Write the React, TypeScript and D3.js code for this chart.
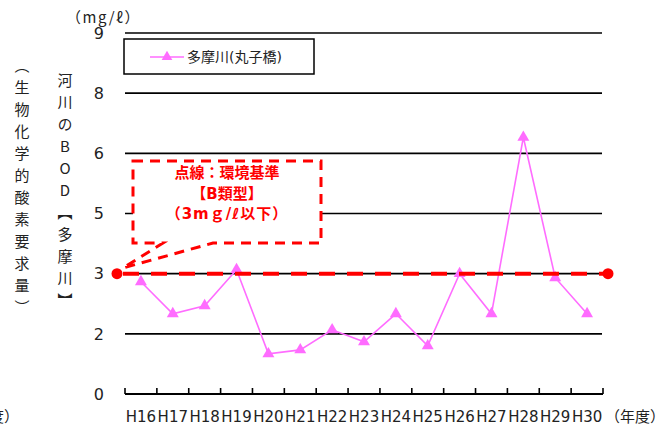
import React from "react";
import * as d3 from "d3";

const categories = ["H16","H17","H18","H19","H20","H21","H22","H23","H24","H25","H26","H27","H28","H29","H30"];
const seriesName = "多摩川(丸子橋)";
const bodValues = [2.8, 2.0, 2.2, 3.1, 1.0, 1.1, 1.6, 1.3, 2.0, 1.2, 3.0, 2.0, 6.4, 2.9, 2.0];
const standardValue = 3;
const yTickValues = [0, 1.5, 3, 4.5, 6, 7.5, 9];
const yTickLabels = ["0", "2", "3", "5", "6", "8", "9"];
const calloutLines = ["点線：環境基準", "【B類型】", "（3mｇ/ℓ以下）"];
const yTitleOuter = "（生物化学的酸素要求量）";
const yTitleInner = "河川のBOD【多摩川】";
const unitLabel = "（mg/ℓ）";
const xUnitLabel = "（年度）";

const W = 666, H = 430;
const plotLeft = 125, plotRight = 603, plotTop = 33, plotBottom = 394;
const PINK = "#ff6cff";
const RED = "#ff0000";
const FONT = "'DejaVu Sans', 'Noto Sans CJK JP', sans-serif";
const CJK = "'Noto Sans CJK JP', 'DejaVu Sans', sans-serif";

export default function App() {
  const x = d3.scaleBand<string>().domain(categories).range([plotLeft, plotRight]).padding(0);
  const y = d3.scaleLinear().domain([0, 9]).range([plotBottom, plotTop]);
  const cx = (c: string) => (x(c) as number) + x.bandwidth() / 2;

  const line = d3.line<number>()
    .x((_, i) => cx(categories[i]))
    .y((d) => y(d));
  const tri = d3.symbol().type(d3.symbolTriangle).size(62)();
  const triSmall = d3.symbol().type(d3.symbolTriangle).size(50)();

  const boundaries = d3.range(categories.length + 1).map((i) => plotLeft + i * x.bandwidth());
  const y3 = y(standardValue);
  const dotL = plotLeft - 8, dotR = plotRight + 5;

  // callout box
  const bx0 = 133, bx1 = 321, by0 = 161, by1 = 243;
  const tip = [123, 268];
  const calloutPath = `M${bx0},${by0} L${bx1},${by0} L${bx1},${by1} L213,${by1} L${tip[0]},${tip[1]} L163,${by1} L${bx0},${by1} Z`;

  return (
    <svg width={W} height={H} style={{ position: "absolute", left: 0, top: 0, background: "#fff" }} fontFamily={FONT}>
      <rect x={0} y={0} width={W} height={H} fill="#fff" />
      {/* gridlines */}
      {yTickValues.filter((v) => v > 0).map((v) => (
        <line key={v} x1={plotLeft} x2={plotRight - 1} y1={y(v)} y2={y(v)} stroke="#000" strokeWidth={1.6} />
      ))}
      {/* y tick labels */}
      {yTickValues.map((v, i) => (
        <text key={v} x={104} y={y(v)} dy="0.36em" textAnchor="end" fontSize={16} fill="#222">{yTickLabels[i]}</text>
      ))}
      {/* x axis */}
      <line x1={plotLeft} x2={plotRight} y1={plotBottom} y2={plotBottom} stroke="#000" strokeWidth={2.2} />
      {boundaries.map((bx, i) => (
        <line key={i} x1={bx} x2={bx} y1={plotBottom} y2={plotBottom - 6} stroke="#000" strokeWidth={1.6} />
      ))}
      {categories.map((c) => (
        <text key={c} x={cx(c)} y={422} textAnchor="middle" fontSize={15} fill="#222">{c}</text>
      ))}
      <text x={605} y={422} fontSize={15} fill="#222" fontFamily={CJK}>{xUnitLabel}</text>
      <text x={19} y={422} textAnchor="end" fontSize={15} fill="#222" fontFamily={CJK}>{xUnitLabel}</text>

      {/* series */}
      <path d={line(bodValues) as string} fill="none" stroke={PINK} strokeWidth={1.6} />
      {bodValues.map((v, i) => (
        <path key={i} d={tri as string} transform={`translate(${cx(categories[i])},${y(v)})`} fill={PINK} />
      ))}

      {/* standard line */}
      <line x1={dotL} x2={dotR} y1={y3} y2={y3} stroke={RED} strokeWidth={4} strokeDasharray="16 12" strokeDashoffset={-6} />
      <circle cx={dotL} cy={y3} r={5.5} fill={RED} />
      <circle cx={dotR} cy={y3} r={5.5} fill={RED} />

      {/* callout */}
      <path d={calloutPath} fill="#fff" stroke={RED} strokeWidth={3} strokeDasharray="10 7" />
      {calloutLines.map((t, i) => (
        <text key={i} x={227} y={178 + i * 20.5} textAnchor="middle" fontSize={15} fontWeight="bold" fill={RED} fontFamily={FONT}
          letterSpacing={i === 2 ? 1 : 0}>{t}</text>
      ))}

      {/* legend */}
      <rect x={124} y={39} width={190} height={35} fill="#fff" stroke="#000" strokeWidth={1.5} />
      <line x1={150} x2={184} y1={57} y2={57} stroke={PINK} strokeWidth={1.6} />
      <path d={triSmall as string} transform="translate(167,57)" fill={PINK} />
      <text x={187} y={62} fontSize={14} fill="#222">{seriesName}</text>

      {/* unit & titles */}
      <text x={66} y={23} fontSize={15} fill="#222" fontFamily={CJK} letterSpacing={1.5}>{unitLabel}</text>
      <text x={22} y={58} fontSize={15} fill="#222" fontFamily={CJK} letterSpacing={7}
        style={{ writingMode: "vertical-rl", textOrientation: "upright" } as any}>{yTitleOuter}</text>
      <text x={65} y={73} fontSize={15} fill="#222" fontFamily={CJK} letterSpacing={7}
        style={{ writingMode: "vertical-rl", textOrientation: "upright" } as any}>{yTitleInner}</text>
    </svg>
  );
}
